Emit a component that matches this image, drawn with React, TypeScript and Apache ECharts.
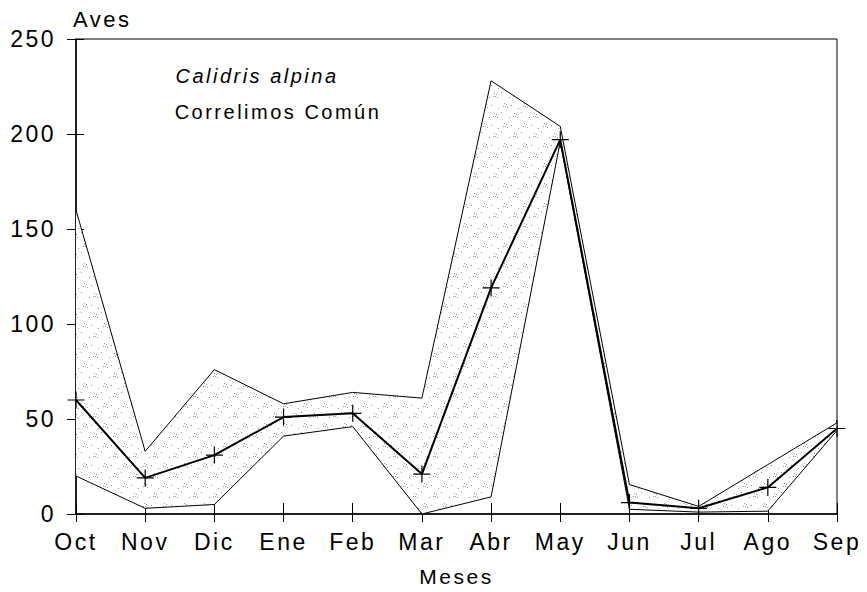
import React, { useEffect, useRef } from "react";
import * as echarts from "echarts";

const months = ["Oct", "Nov", "Dic", "Ene", "Feb", "Mar", "Abr", "May", "Jun", "Jul", "Ago", "Sep"];
const meanValues = [60, 19, 31, 51, 53, 21, 119, 197, 6, 3, 14, 45];
const upperValues = [160, 33, 76, 58, 64, 61, 228, 204, 15.5, 4, 26, 48];
const lowerValues = [20, 3, 5, 41, 46, 0, 9, 196, 2.5, 1, 1.5, 44];
const yTicks = { min: 0, max: 250, interval: 50 };

const FONT = "'Liberation Sans', Arial, sans-serif";

function makeStipple(): HTMLCanvasElement {
  const c = document.createElement("canvas");
  c.width = 20;
  c.height = 20;
  const ctx = c.getContext("2d")!;
  ctx.fillStyle = "#ffffff";
  ctx.fillRect(0, 0, 20, 20);
  ctx.fillStyle = "#9a9a9a";
  const dots = [
    [4, 3], [6, 4], [5, 6], [3, 6], [7, 7],
    [14, 13], [16, 14], [15, 16], [13, 16], [17, 17],
    [11, 5], [1, 12], [9, 17], [18, 8],
  ];
  dots.forEach(([x, y]) => ctx.fillRect(x, y, 1, 1));
  return c;
}

export default function App() {
  const ref = useRef<HTMLDivElement>(null);
  useEffect(() => {
    if (!ref.current) return;
    const chart = echarts.init(ref.current, null, { renderer: "svg" });
    const diff = upperValues.map((u, i) => u - lowerValues[i]);
    const axisText = { color: "#000", fontFamily: FONT, fontSize: 23 };
    chart.setOption({
      animation: false,
      backgroundColor: "#fff",
      grid: {
        left: 76,
        right: 30,
        top: 39,
        bottom: 78,
        show: true,
        borderColor: "#000",
        borderWidth: 1,
        backgroundColor: "transparent",
      },
      xAxis: [
        {
          type: "category",
          data: months,
          boundaryGap: false,
          axisLine: { show: true, lineStyle: { color: "#000", width: 1.5 } },
          axisTick: { show: true, inside: false, length: 8, lineStyle: { color: "#000" } },
          axisLabel: { ...axisText, margin: 16 },
          name: "Meses",
          nameLocation: "middle",
          nameGap: 52,
          nameTextStyle: { ...axisText, fontSize: 21 },
        },
        {
          type: "category",
          data: months,
          boundaryGap: false,
          position: "bottom",
          axisLine: { show: false },
          axisTick: { show: true, inside: true, length: 11, lineStyle: { color: "#000" } },
          axisLabel: { show: false },
        },
      ],
      yAxis: [
        {
          type: "value",
          ...yTicks,
          axisLine: { show: true, lineStyle: { color: "#000", width: 1.5 } },
          axisTick: { show: true, inside: false, length: 9, lineStyle: { color: "#000" } },
          axisLabel: { ...axisText, margin: 20 },
          splitLine: { show: false },
        },
        {
          type: "value",
          ...yTicks,
          position: "left",
          axisLine: { show: false },
          axisTick: { show: true, inside: true, length: 8, lineStyle: { color: "#000" } },
          axisLabel: { show: false },
          splitLine: { show: false },
        },
      ],
      graphic: [
        {
          type: "text",
          left: 73,
          top: 8,
          style: { text: "Aves", font: `22px ${FONT}`, fill: "#000" },
        },
        {
          type: "text",
          x: 257,
          y: 76,
          style: {
            text: "Calidris alpina",
            font: `italic 20px ${FONT}`,
            fill: "#000",
            textAlign: "center",
            textVerticalAlign: "middle",
          },
        },
        {
          type: "text",
          x: 278,
          y: 112,
          style: {
            text: "Correlimos Común",
            font: `20px ${FONT}`,
            fill: "#000",
            textAlign: "center",
            textVerticalAlign: "middle",
          },
        },
      ],
      series: [
        {
          type: "line",
          name: "Mínimo",
          stack: "band",
          data: lowerValues,
          symbol: "none",
          lineStyle: { color: "#000", width: 1 },
          z: 2,
        },
        {
          type: "line",
          name: "Máximo",
          stack: "band",
          data: diff,
          symbol: "none",
          lineStyle: { color: "#000", width: 1 },
          areaStyle: { color: { image: makeStipple(), repeat: "repeat" }, opacity: 1 },
          z: 2,
        },
        {
          type: "line",
          name: "Media",
          data: meanValues,
          symbol: "path://M0,7H14M7,0V14",
          symbolSize: 17,
          itemStyle: { color: "none", borderColor: "#000", borderWidth: 1.2 },
          lineStyle: { color: "#000", width: 2 },
          z: 3,
        },
      ],
    });
    return () => chart.dispose();
  }, []);
  return (
    <>
      <style>{"#root svg text{letter-spacing:2.5px}"}</style>
      <div
        ref={ref}
        style={{ position: "fixed", left: 0, top: 0, width: 867, height: 592 }}
      />
    </>
  );
}
